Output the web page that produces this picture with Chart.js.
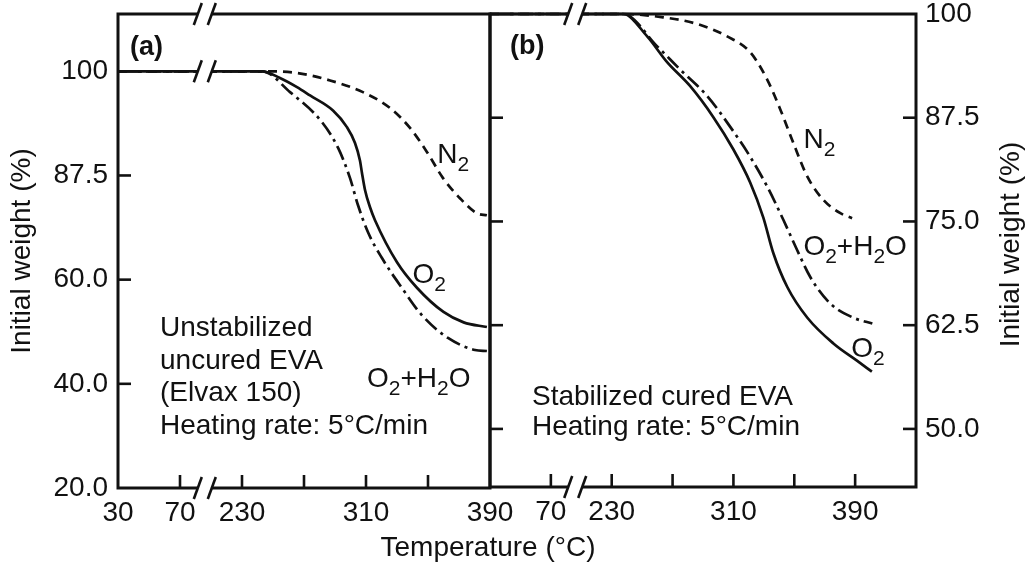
<!DOCTYPE html>
<html>
<head>
<meta charset="utf-8">
<title>Thermogravimetric curves of EVA</title>
<script src="https://cdn.jsdelivr.net/npm/chart.js@4.4.1/dist/chart.umd.min.js"></script>
<style>
  html, body { margin: 0; padding: 0; background: #fff; }
  #wrap { position: relative; width: 1028px; height: 569px; overflow: hidden;
          font-family: "Liberation Sans", Arial, Helvetica, sans-serif; color: #111; }
  #wrap canvas { position: absolute; left: 0; top: 0; }
  #xtitle { position: absolute; left: 0; width: 976px; top: 531px; text-align: center;
            font-size: 28px; line-height: 32px; }
</style>
</head>
<body>
<div id="wrap">
  <canvas id="panelA" width="1028" height="569"></canvas>
  <canvas id="panelB" width="1028" height="569"></canvas>
  <div id="xtitle">Temperature (°C)</div>
</div>
<script>
// ---------- data: weight (%) against temperature (°C) ----------
// (a) unstabilized uncured EVA
const tempA_O2   = [30, 243, 254.5, 265.5, 273.9, 288.7, 297.7, 302.9, 306.1, 307.4, 309.4, 312.6, 315.8, 330, 343, 360, 373, 388];
const weightA_O2 = [100, 100, 99.2, 98.1, 97.1, 95.3, 93.3, 91.4, 89.3, 87.8, 83.6, 79.1, 75.7, 64.6, 58.4, 53.8, 51.8, 50.9];
const tempA_H2O   = [30, 243, 261, 281.6, 292, 299.7, 304.8, 311.3, 320.3, 333.2, 346, 362.9, 380.3, 388];
const weightA_H2O = [100, 100, 97.5, 93.9, 90.8, 86.8, 79.7, 72.5, 65.7, 58.4, 53.2, 48.8, 46.5, 46.3];
const tempA_N2   = [30, 243, 265.5, 286.8, 308, 325.5, 338.4, 349.4, 359.7, 370.6, 381.6, 388];
const weightA_N2 = [100, 100, 99.8, 98.9, 97.5, 95.6, 93.2, 90.3, 86.8, 81.5, 77.5, 77.0];

// (b) stabilized cured EVA
const tempB_O2   = [30, 237.5, 253.3, 266.4, 281.6, 296.7, 309.9, 321, 329.6, 336.2, 345.4, 358.6, 375.7, 391.4, 401];
const weightB_O2 = [100, 100, 97.3, 94.2, 91.3, 87.6, 83.7, 79.7, 75.5, 71.2, 67.1, 63.4, 60.3, 58.2, 56.9];
const tempB_H2O   = [30, 237.5, 259.9, 275, 292.8, 307.9, 321, 332.2, 342.8, 352, 360.5, 373.7, 388.8, 401.3];
const weightB_H2O = [100, 100, 96.1, 93.3, 90.1, 86.4, 82.8, 79.2, 75.2, 71.5, 68.3, 65.1, 63.4, 62.7];
const tempB_N2   = [30, 237.5, 263.8, 286.2, 305.9, 321, 332.2, 340.8, 349.3, 358.6, 369.1, 380.3, 388];
const weightB_N2 = [100, 100, 99.6, 98.8, 97.3, 95.4, 92.1, 88.5, 84.5, 80.4, 77.6, 76.0, 75.4];

// ---------- ticks ----------
const weightTicksA  = [20, 40, 60, 87.5, 100];
const weightLabelsA = ['20.0', '40.0', '60.0', '87.5', '100'];
const weightTicksB  = [50, 62.5, 75, 87.5, 100];
const weightLabelsB = ['50.0', '62.5', '75.0', '87.5', '100'];
const tempTicksA    = [30, 70, 230, 270, 310, 350, 390];
const tempLabeledA  = [30, 70, 230, 310, 390];
const tempTicksB    = [70, 230, 270, 310, 350, 390];
const tempLabeledB  = [70, 230, 310, 390];

// ---------- text ----------
const notesA = ['Unstabilized', 'uncured EVA', '(Elvax 150)', 'Heating rate: 5°C/min'];
const notesB = ['Stabilized cured EVA', 'Heating rate: 5°C/min'];
const labelN2  = ['N', '_2'];
const labelO2  = ['O', '_2'];
const labelH2O = ['O', '_2', '+H', '_2', 'O'];
const yTitle = 'Initial weight (%)';

// ---------- axis transforms ----------
const FONT = '"Liberation Sans", Arial, Helvetica, sans-serif';
const INK = '#111';
// the temperature axis is broken between 70 and 230 °C
const BREAK_FROM = 70, BREAK_TO = 230, BREAK_GAP = 40, BREAK_MARK = 86;
const toAxisT = t => (t <= BREAK_FROM ? t : t - (BREAK_TO - BREAK_FROM) + BREAK_GAP);
const fromAxisT = u => (u <= BREAK_FROM ? u : u + (BREAK_TO - BREAK_FROM) - BREAK_GAP);
// panel (a) spaces its weight labels evenly, so weights map piecewise onto label slots
function toSlotA(w) {
  const k = weightTicksA;
  let i = 0;
  while (i < k.length - 2 && w > k[i + 1]) i++;
  return i + (w - k[i]) / (k[i + 1] - k[i]);
}
const toSlotB = w => w;

function series(temps, weights, toY, dash) {
  return {
    data: temps.map((t, i) => ({ x: toAxisT(t), y: toY(weights[i]) })),
    borderColor: INK,
    borderWidth: 2.7,
    borderDash: dash,
    pointRadius: 0,
    fill: false,
    cubicInterpolationMode: 'monotone',
    clip: false
  };
}
const SOLID = [], DASHED = [9, 6], DASH_DOT = [15, 5, 3, 5];

// ---------- drawing helpers ----------
function stroke(ctx, x1, y1, x2, y2) {
  ctx.beginPath(); ctx.moveTo(x1, y1); ctx.lineTo(x2, y2); ctx.stroke();
}
function breakMark(ctx, x, y) {
  ctx.fillStyle = '#fff';
  ctx.fillRect(x - 7, y - 3.5, 14, 7);
  stroke(ctx, x - 11, y + 11, x - 3, y - 11);
  stroke(ctx, x + 3, y + 11, x + 11, y - 11);
}
function richText(ctx, x, y, parts, size) {
  let cx = x;
  for (const p of parts) {
    const sub = p.startsWith('_');
    const s = sub ? p.slice(1) : p;
    ctx.font = `${sub ? Math.round(size * 0.75) : size}px ${FONT}`;
    ctx.fillText(s, cx, y + (sub ? 8 : 0));
    cx += ctx.measureText(s).width;
  }
}
// keep the plot frame exactly where the layout padding puts it
function noOverflow(s) {
  s.paddingTop = 0; s.paddingBottom = 0; s.paddingLeft = 0; s.paddingRight = 0;
}

// frame, inward tick marks and axis-break marks
const framePlugin = {
  id: 'frame',
  afterDatasetsDraw(chart, args, o) {
    const { ctx, chartArea: a } = chart;
    const x = chart.scales.x, y = chart.scales.y;
    ctx.save();
    ctx.setLineDash([]);
    ctx.strokeStyle = INK;
    ctx.lineWidth = 3;
    ctx.lineCap = 'butt';
    ctx.strokeRect(a.left, a.top, a.right - a.left, a.bottom - a.top);
    const L = 13;
    ctx.lineWidth = 2.6;
    for (const t of o.xTicks) {
      const px = x.getPixelForValue(toAxisT(t));
      stroke(ctx, px, a.bottom, px, a.bottom - L);
    }
    for (const w of o.leftTicks) {
      const py = y.getPixelForValue(o.toY(w));
      stroke(ctx, a.left, py, a.left + L, py);
    }
    for (const w of o.rightTicks) {
      const py = y.getPixelForValue(o.toY(w));
      stroke(ctx, a.right, py, a.right - L, py);
    }
    const bx = x.getPixelForValue(BREAK_MARK);
    breakMark(ctx, bx, a.top);
    breakMark(ctx, bx, a.bottom);
    for (const w of o.breakLines) breakMark(ctx, bx, y.getPixelForValue(o.toY(w)));
    ctx.restore();
  }
};

// panel letter, description and curve labels
const notePlugin = {
  id: 'notes',
  afterDraw(chart, args, o) {
    const { ctx, chartArea: a } = chart;
    const x = chart.scales.x, y = chart.scales.y;
    ctx.save();
    ctx.fillStyle = INK;
    ctx.textAlign = 'left';
    ctx.textBaseline = 'alphabetic';
    ctx.font = `bold 27px ${FONT}`;
    ctx.fillText(o.letter, a.left + o.letterAt[0], a.top + o.letterAt[1]);
    ctx.font = `28px ${FONT}`;
    o.lines.forEach((s, i) => ctx.fillText(s, a.left + o.linesAt[0], a.top + o.linesAt[1] + i * o.lineGap));
    for (const c of o.curveLabels) {
      richText(ctx, x.getPixelForValue(toAxisT(c.t)), y.getPixelForValue(o.toY(c.w)), c.parts, 28);
    }
    if (o.rightTitle) {
      ctx.translate(chart.width - 17, (a.top + a.bottom) / 2 - 6);
      ctx.rotate(-Math.PI / 2);
      ctx.textAlign = 'center';
      ctx.textBaseline = 'middle';
      ctx.font = `28px ${FONT}`;
      ctx.fillText(o.rightTitle, 0, 0);
    }
    ctx.restore();
  }
};

const tickFont = { family: FONT, size: 28 };

function xScale(maxT, ticks, labeled, height) {
  return {
    type: 'linear',
    min: toAxisT(30),
    max: toAxisT(maxT),
    afterBuildTicks: s => { s.ticks = ticks.map(t => ({ value: toAxisT(t) })); },
    afterFit: s => { s.height = height; noOverflow(s); },
    grid: { display: false, drawTicks: false },
    border: { display: false },
    ticks: {
      autoSkip: false, maxRotation: 0, minRotation: 0, padding: 8, color: INK, font: tickFont,
      callback: v => { const t = Math.round(fromAxisT(v)); return labeled.includes(t) ? String(t) : ''; }
    }
  };
}

// ---------- panel (a) ----------
new Chart(document.getElementById('panelA'), {
  type: 'line',
  data: {
    datasets: [
      series(tempA_N2, weightA_N2, toSlotA, DASHED),
      series(tempA_H2O, weightA_H2O, toSlotA, DASH_DOT),
      series(tempA_O2, weightA_O2, toSlotA, SOLID)
    ]
  },
  options: {
    responsive: false, animation: false, events: [],
    layout: { padding: { left: 5, top: 14, right: 538, bottom: 0 } },
    plugins: {
      legend: { display: false }, tooltip: { enabled: false },
      frame: { xTicks: [70, 230, 270, 310, 350], leftTicks: [40, 60, 87.5], rightTicks: [],
               breakLines: [100], toY: toSlotA },
      notes: {
        letter: '(a)', letterAt: [12, 41],
        lines: notesA, linesAt: [42, 322], lineGap: 32.5,
        toY: toSlotA,
        curveLabels: [
          { t: 356, w: 89, parts: labelN2 },
          { t: 340, w: 59.3, parts: labelO2 },
          { t: 310.6, w: 39.4, parts: labelH2O }
        ]
      }
    },
    scales: {
      x: xScale(390, tempTicksA, tempLabeledA, 81),
      y: {
        type: 'linear', position: 'left', min: 0, max: 4.55,
        afterBuildTicks: s => { s.ticks = weightTicksA.map(w => ({ value: toSlotA(w) })); },
        afterFit: s => { s.width = 113; noOverflow(s); },
        grid: { display: false, drawTicks: false },
        border: { display: false },
        ticks: { autoSkip: false, padding: 10, color: INK, font: tickFont,
                 callback: (v, i) => weightLabelsA[i] },
        title: { display: true, text: yTitle, color: INK, padding: 0,
                 font: { family: FONT, size: 28 } }
      }
    }
  },
  plugins: [framePlugin, notePlugin]
});

// ---------- panel (b) ----------
new Chart(document.getElementById('panelB'), {
  type: 'line',
  data: {
    datasets: [
      series(tempB_N2, weightB_N2, toSlotB, DASHED),
      series(tempB_H2O, weightB_H2O, toSlotB, DASH_DOT),
      series(tempB_O2, weightB_O2, toSlotB, SOLID)
    ]
  },
  options: {
    responsive: false, animation: false, events: [],
    layout: { padding: { left: 490, top: 14, right: 0, bottom: 0 } },
    plugins: {
      legend: { display: false }, tooltip: { enabled: false },
      frame: { xTicks: [70, 230, 270, 310, 350, 390], leftTicks: [50, 62.5, 75, 87.5],
               rightTicks: [50, 62.5, 75, 87.5], breakLines: [], toY: toSlotB },
      notes: {
        letter: '(b)', letterAt: [20, 40],
        lines: notesB, linesAt: [42, 391], lineGap: 30,
        toY: toSlotB,
        rightTitle: yTitle,
        curveLabels: [
          { t: 356, w: 83.9, parts: labelN2 },
          { t: 356, w: 71, parts: labelH2O },
          { t: 387.5, w: 58.7, parts: labelO2 }
        ]
      }
    },
    scales: {
      x: xScale(430, tempTicksB, tempLabeledB, 82),
      y: {
        type: 'linear', position: 'right', min: 43, max: 100,
        afterBuildTicks: s => { s.ticks = weightTicksB.map(w => ({ value: w })); },
        afterFit: s => { s.width = 112; noOverflow(s); },
        grid: { display: false, drawTicks: false },
        border: { display: false },
        ticks: { autoSkip: false, padding: 9, color: INK, font: tickFont,
                 callback: (v, i) => weightLabelsB[i] }
      }
    }
  },
  plugins: [framePlugin, notePlugin]
});
</script>
</body>
</html>
